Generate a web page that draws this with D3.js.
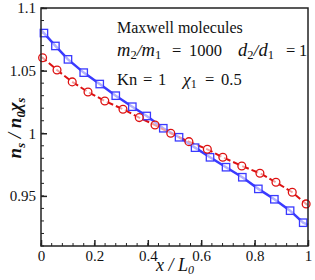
<!DOCTYPE html>
<html>
<head>
<meta charset="utf-8">
<script src="https://cdn.jsdelivr.net/npm/d3@7"></script>
<style>
  html, body { margin: 0; padding: 0; background: #fff; }
  svg { display: block; }
  text { white-space: pre; }
</style>
</head>
<body>
<script>
// ---- data ----
const blueX = [0, 0.011, 0.054, 0.101, 0.160, 0.220, 0.280, 0.342, 0.396, 0.458, 0.517, 0.577, 0.633, 0.693, 0.754, 0.814, 0.874, 0.933, 0.982, 1];
const blueY = [1.0825, 1.0800, 1.0697, 1.0590, 1.0484, 1.0393, 1.0300, 1.0212, 1.0138, 1.0040, 0.9968, 0.9885, 0.9808, 0.9729, 0.9649, 0.9556, 0.9473, 0.9382, 0.9286, 0.9268];
const redX = [0, 0.006, 0.060, 0.117, 0.176, 0.239, 0.307, 0.368, 0.427, 0.486, 0.554, 0.623, 0.681, 0.752, 0.820, 0.880, 0.941, 0.993, 1];
const redY = [1.0610, 1.0603, 1.0505, 1.0410, 1.0330, 1.0258, 1.0192, 1.0125, 1.0066, 1.0000, 0.9933, 0.9872, 0.9808, 0.9739, 0.9681, 0.9609, 0.9529, 0.9436, 0.9425];
const xTicks = [0, 0.2, 0.4, 0.6, 0.8, 1];
const xTickLabels = ["0", "0.2", "0.4", "0.6", "0.8", "1"];
const yTicks = [0.95, 1, 1.05, 1.1];
const yTickLabels = ["0.95", "1", "1.05", "1.1"];
const xDomain = [0, 1];
const yDomain = [0.91, 1.1];

const SERIF = "'Liberation Serif', 'Times New Roman', 'DejaVu Serif', serif";
const W = 315, H = 280;
const m = { left: 41, right: 7, top: 8, bottom: 34 };

const svg = d3.select("body").append("svg").attr("width", W).attr("height", H)
  .attr("font-family", SERIF);
const x = d3.scaleLinear().domain(xDomain).range([m.left, W - m.right]);
const y = d3.scaleLinear().domain(yDomain).range([H - m.bottom, m.top]);

const xMinor = d3.range(0, 1.0001, 0.04);
const yMinor = d3.range(0.91, 1.1001, 0.01);

// minor ticks
const gx = svg.append("g");
gx.selectAll("line.minx").data(xMinor).enter().append("line")
  .attr("x1", d => x(d)).attr("x2", d => x(d))
  .attr("y1", y(yDomain[0])).attr("y2", y(yDomain[0]) - 3)
  .attr("stroke", "#222").attr("stroke-width", 1);
gx.selectAll("line.miny").data(yMinor).enter().append("line")
  .attr("y1", d => y(d)).attr("y2", d => y(d))
  .attr("x1", x(0)).attr("x2", x(0) + 3)
  .attr("stroke", "#222").attr("stroke-width", 1);

// major ticks + labels via axes
const xAxis = d3.axisBottom(x).tickValues(xTicks).tickSizeInner(-6).tickSizeOuter(0)
  .tickPadding(4).tickFormat((d, i) => xTickLabels[i]);
const yAxis = d3.axisLeft(y).tickValues(yTicks).tickSizeInner(-6).tickSizeOuter(0)
  .tickPadding(5).tickFormat((d, i) => yTickLabels[i]);

const ax = svg.append("g").attr("transform", `translate(0,${y(yDomain[0])})`).call(xAxis);
const ay = svg.append("g").attr("transform", `translate(${x(0)},0)`).call(yAxis);
[ax, ay].forEach(g => {
  g.attr("font-family", SERIF).attr("font-size", 15);
  g.select(".domain").remove();
  g.selectAll(".tick line").attr("stroke", "#222").attr("stroke-width", 1.5);
  g.selectAll(".tick text").attr("fill", "#111");
});

// lines
const blue = "#3a3aff", red = "#dd1111";
const line = d3.line().x(d => x(d[0])).y(d => y(d[1]));
const blueData = blueX.map((v, i) => [v, blueY[i]]);
const redData = redX.map((v, i) => [v, redY[i]]);

svg.append("path").datum(blueData).attr("d", line)
  .attr("fill", "none").attr("stroke", blue).attr("stroke-width", 2.5);
svg.append("path").datum(redData).attr("d", line)
  .attr("fill", "none").attr("stroke", red).attr("stroke-width", 2)
  .attr("stroke-dasharray", "7,3");

svg.selectAll("rect.sq").data(blueData.slice(1, -1)).enter().append("rect")
  .attr("x", d => x(d[0]) - 3.7).attr("y", d => y(d[1]) - 3.7)
  .attr("width", 7.4).attr("height", 7.4)
  .attr("fill", "#fff").attr("fill-opacity", 0.6)
  .attr("stroke", blue).attr("stroke-width", 1.3);
svg.selectAll("circle.ci").data(redData.slice(1, -1)).enter().append("circle")
  .attr("cx", d => x(d[0])).attr("cy", d => y(d[1])).attr("r", 3.9)
  .attr("fill", "#fff").attr("fill-opacity", 0.6)
  .attr("stroke", red).attr("stroke-width", 1.3);

// frame
svg.append("rect").attr("x", x(0)).attr("y", y(yDomain[1]))
  .attr("width", x(1) - x(0)).attr("height", y(yDomain[0]) - y(yDomain[1]))
  .attr("fill", "none").attr("stroke", "#222").attr("stroke-width", 1.5);

// annotations
const ann = svg.append("g").attr("fill", "#111").attr("font-size", 16.5);
ann.append("text").attr("x", 117).attr("y", 33).attr("font-size", 16).text("Maxwell molecules");

function frac(xx, yy, a) {
  const t = ann.append("text").attr("x", xx).attr("y", yy);
  t.append("tspan").style("font-style", "italic").attr("font-size", 18.5).text(a);
  t.append("tspan").attr("dy", 3).attr("font-size", 12.5).text("2");
  t.append("tspan").attr("dy", -3).style("font-style", "italic").attr("font-size", 17.5).text("/");
  t.append("tspan").style("font-style", "italic").attr("font-size", 18.5).text(a);
  t.append("tspan").attr("dy", 3).attr("font-size", 12.5).text("1");
}
const L2 = 56, L3 = 85;
frac(117, L2, "m");
ann.append("text").attr("x", 172).attr("y", L2).text("=");
ann.append("text").attr("x", 189).attr("y", L2).text("1000");
frac(238, L2, "d");
ann.append("text").attr("x", 286).attr("y", L2).text("=");
ann.append("text").attr("x", 299).attr("y", L2).text("1");

ann.append("text").attr("x", 117).attr("y", L3).text("Kn");
ann.append("text").attr("x", 143).attr("y", L3).text("=");
ann.append("text").attr("x", 158).attr("y", L3).text("1");
const chi = ann.append("text").attr("x", 183).attr("y", L3);
chi.append("tspan").style("font-style", "italic").attr("font-size", 17.5).text("χ");
chi.append("tspan").attr("dy", 3).attr("font-size", 12).text("1");
ann.append("text").attr("x", 205).attr("y", L3).text("=");
ann.append("text").attr("x", 221).attr("y", L3).text("0.5");

// axis titles
const xl = svg.append("text").attr("x", 175).attr("y", 271).attr("text-anchor", "middle")
  .attr("fill", "#111").attr("font-size", 18).style("font-style", "italic");
xl.append("tspan").text("x / L");
xl.append("tspan").attr("dy", 3).attr("font-size", 12).text("0");

const yl = svg.append("text").attr("transform", "translate(21,128) rotate(-90)")
  .attr("text-anchor", "middle").attr("fill", "#111")
  .attr("font-size", 19).style("font-style", "italic").style("font-weight", "bold");
yl.append("tspan").text("n");
yl.append("tspan").attr("dy", 4).attr("font-size", 12.5).text("s");
yl.append("tspan").attr("dy", -4).style("font-weight", "normal").text(" / ");
yl.append("tspan").text("n");
yl.append("tspan").attr("dy", 4).attr("font-size", 12.5).text("0");
yl.append("tspan").attr("dy", -4).text("χ");
yl.append("tspan").attr("dy", 4).attr("font-size", 12.5).text("s");
</script>
</body>
</html>
